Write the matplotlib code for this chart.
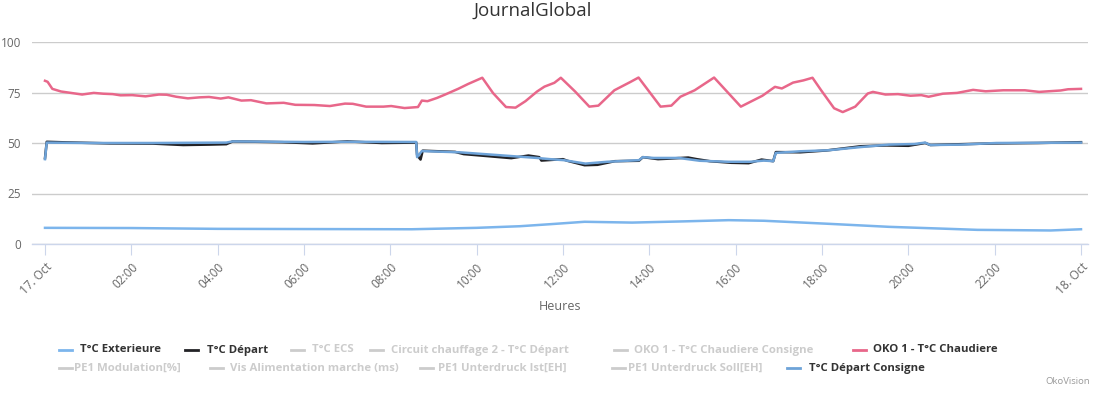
import matplotlib as mpl
mpl.use("Agg")
import matplotlib.pyplot as plt
from matplotlib.lines import Line2D

plt.rcParams["font.family"] = ["Open Sans", "DejaVu Sans"]

# hours since 17 Oct 00:00
chaudiereT = [0, 0.06, 0.17, 0.37, 0.6, 0.86, 1.13, 1.35, 1.57, 1.75, 2.02, 2.33, 2.64, 2.82,
    3.04, 3.31, 3.58, 3.8, 4.07, 4.25, 4.55, 4.77, 5.13, 5.53, 5.8, 6.24, 6.6, 6.95, 7.13,
    7.44, 7.84, 8.02, 8.33, 8.64, 8.73, 8.86, 9.08, 9.26, 9.57, 9.8, 10.13, 10.38, 10.68,
    10.9, 11.13, 11.4, 11.57, 11.8, 11.95, 12.28, 12.61, 12.82, 13.19, 13.56, 13.75, 14.26,
    14.51, 14.72, 15.05, 15.5, 16.12, 16.62, 16.91, 17.07, 17.33, 17.57, 17.78, 17.98, 18.28,
    18.48, 18.77, 19.06, 19.18, 19.47, 19.76, 20.05, 20.3, 20.47, 20.8, 21.13, 21.5, 21.79,
    22.2, 22.7, 23.03, 23.53, 23.7, 24]
chaudiere = [80.8, 80.3, 76.8, 75.5, 74.8, 74.0, 74.8, 74.4, 74.2, 73.6, 73.7, 73.1, 74.0, 73.9,
    72.9, 72.1, 72.6, 72.8, 72.0, 72.6, 71.0, 71.2, 69.6, 69.9, 68.9, 68.8, 68.3, 69.5, 69.4,
    68.0, 68.0, 68.3, 67.3, 67.8, 71.0, 70.7, 72.3, 73.9, 76.8, 79.2, 82.3, 74.7, 67.8,
    67.5, 70.7, 75.5, 77.9, 79.8, 82.3, 75.5, 68.0, 68.5, 76.1, 80.2, 82.4, 68.0,
    68.5, 72.9, 76.1, 82.4, 68.0, 73.4, 77.8, 77.0, 79.9, 81.0, 82.3, 76.1, 67.2,
    65.3, 68.0, 74.5, 75.3, 74.0, 74.2, 73.4, 73.7, 72.9, 74.4, 74.8, 76.3, 75.6,
    76.1, 76.1, 75.3, 76.0, 76.6, 76.8]

consigneT = [0, 0.04, 1.0, 2.5, 4.2, 4.35, 6.0, 7.0, 8.6, 8.62, 8.73, 9.6, 10.5, 11.4, 11.7,
    12.02, 12.52, 13.02, 13.76, 13.85, 14.1, 14.68, 15.17, 15.84, 16.33, 16.66, 16.87, 16.93,
    17.49, 18.15, 18.9, 19.55, 20.14, 20.39, 20.51, 21.21, 22.04, 24]
consigne = [42.0, 50.2, 50.0, 50.0, 50.2, 50.8, 50.5, 50.6, 50.5, 43.0, 46.0, 45.4, 44.0, 42.6, 42.0,
    41.5, 39.8, 40.7, 41.5, 43.0, 42.6, 42.6, 41.2, 40.7, 40.7, 41.3, 41.0, 45.1,
    45.9, 46.4, 48.0, 49.2, 49.5, 50.2, 49.0, 49.2, 50.0, 50.2]

departT = [0, 0.04, 0.5, 1.5, 2.5, 3.2, 3.8, 4.2, 4.35, 5.5, 6.2, 7.0, 7.8, 8.6, 8.62, 8.7,
    8.75, 9.0, 9.5, 9.7, 10.2, 10.8, 11.2, 11.45, 11.5, 12.0, 12.1, 12.5, 12.8, 13.2, 13.76,
    13.85, 14.2, 14.4, 14.9, 15.1, 15.4, 15.9, 16.3, 16.6, 16.87, 16.93, 17.5, 18.1, 18.9,
    19.5, 20.0, 20.39, 20.51, 21.2, 22.0, 23.0, 24]
depart = [42.5, 50.6, 50.3, 49.8, 49.7, 49.0, 49.2, 49.4, 50.8, 50.4, 49.8, 50.8, 50.0, 50.2, 44.0, 41.8,
    46.2, 46.0, 45.6, 44.5, 43.6, 42.5, 43.8, 43.0, 41.3, 42.0, 41.2, 39.0, 39.2, 41.0, 41.2,
    43.0, 42.0, 42.2, 42.8, 42.0, 41.0, 40.2, 40.0, 41.8, 41.0, 45.5, 45.4, 46.3, 48.4,
    48.8, 48.6, 50.0, 49.0, 49.4, 49.8, 50.0, 50.4]

exterieureT = [0, 2.0, 4.0, 6.0, 8.5, 10.0, 11.0, 11.7, 12.5, 13.6, 14.8, 15.84, 16.66, 18.15,
    19.55, 20.8, 21.6, 23.3, 24]
exterieure = [8.0, 7.9, 7.5, 7.4, 7.3, 8.0, 8.8, 9.8, 11.0, 10.6, 11.2, 11.8, 11.5, 10.0,
    8.5, 7.6, 7.0, 6.7, 7.3]

tickLabels = ["17. Oct", "02:00", "04:00", "06:00", "08:00", "10:00", "12:00",
    "14:00", "16:00", "18:00", "20:00", "22:00", "18. Oct"]

legendRow1 = [
    ("T°C Exterieure", "#7cb5ec", True, 59, 80),
    ("T°C Départ", "#222226", True, 185, 207),
    ("T°C ECS", "#cccccc", False, 291, 312),
    ("Circuit chauffage 2 - T°C Départ", "#cccccc", False, 370, 391),
    ("OKO 1 - T°C Chaudiere Consigne", "#cccccc", False, 614, 634),
    ("OKO 1 - T°C Chaudiere", "#e8678a", True, 853, 873),
  ]
legendRow2 = [
    ("PE1 Modulation[%]", "#cccccc", False, 59, 74),
    ("Vis Alimentation marche (ms)", "#cccccc", False, 210, 230),
    ("PE1 Unterdruck Ist[EH]", "#cccccc", False, 420, 438),
    ("PE1 Unterdruck Soll[EH]", "#cccccc", False, 612, 628),
    ("T°C Départ Consigne", "#6ea3d8", True, 787, 809),
  ]

W, H = 1110, 395
fig = plt.figure(figsize=(W / 100, H / 100), dpi=100)
fig.patch.set_facecolor("white")

pxPerHour = (1081 - 45) / 24.0
x0, x1 = 32, 1088
ax = fig.add_axes([x0 / W, 1 - 244 / H, (x1 - x0) / W, 202 / H])
ax.set_xlim((x0 - 45) / pxPerHour, (x1 - 45) / pxPerHour)
ax.set_ylim(0, 100)

ax.plot(exterieureT, exterieure, color="#7cb5ec", lw=1.8, zorder=3)
ax.plot(departT, depart, color="#222226", lw=1.8, zorder=3)
ax.plot(chaudiereT, chaudiere, color="#e8678a", lw=1.8, zorder=3)
ax.plot(consigneT, consigne, color="#6ea3d8", lw=1.8, zorder=4)

for spine in ["top", "right", "left"]:
  ax.spines[spine].set_visible(False)
ax.spines["bottom"].set_color("#ccd6eb")
ax.spines["bottom"].set_linewidth(1)

ax.set_yticks([0, 25, 50, 75, 100])
ax.set_yticklabels(["0", "25", "50", "75", "100"], color="#666666", fontsize=8.5)
ax.tick_params(axis="y", length=0, pad=8)
ax.grid(axis="y", color="#cccccc", lw=1, zorder=0)

ax.set_xticks(range(0, 25, 2))
ax.set_xticklabels(tickLabels, rotation=45, ha="right", rotation_mode="anchor",
    color="#666666", fontsize=8.5)
ax.tick_params(axis="x", length=8, color="#ccd6eb", pad=4)
ax.set_xlabel("Heures", color="#666666", fontsize=9, labelpad=2)

fig.text(533 / W, 1 - 11 / H, "JournalGlobal", ha="center", va="center",
    fontsize=13.5, color="#333333")

for row, y in ((legendRow1, 350), (legendRow2, 368)):
  for label, color, visible, lx, tx in row:
    fig.add_artist(Line2D([lx / W, (lx + 13) / W], [1 - y / H, 1 - y / H],
        color=color, lw=2, transform=fig.transFigure))
    fig.text(tx / W, 1 - y / H, label, ha="left", va="center", fontsize=8.2,
        fontweight="bold", color="#333333" if visible else "#cccccc")

fig.text(1090 / W, 1 - 381 / H, "OkoVision", ha="right", va="center",
    fontsize=6.8, color="#999999")

fig.savefig("out.png", dpi=100, facecolor="white")
